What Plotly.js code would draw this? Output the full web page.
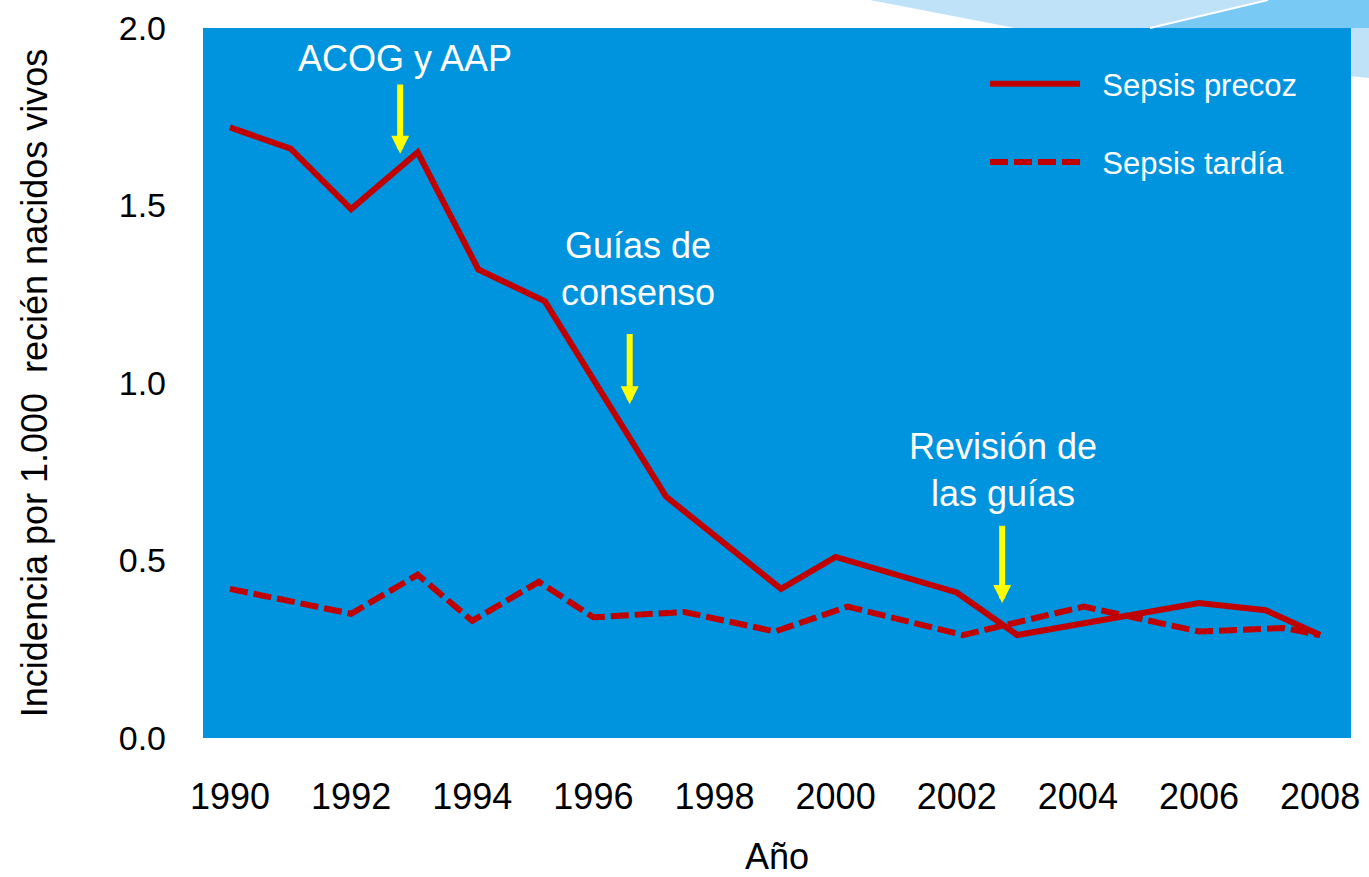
<!DOCTYPE html>
<html>
<head>
<meta charset="utf-8">
<script src="https://cdn.plot.ly/plotly-3.0.1.min.js"></script>
<style>html,body{margin:0;padding:0;background:#fff;}#chart{width:1369px;height:877px;}</style>
</head>
<body>
<div id="chart"></div>
<script>
// ---- data ----
const yearsPrecoz = [1990, 1991, 1992, 1993.1, 1994.1, 1995.2, 1997.2, 1999.1, 2000, 2002, 2003, 2006, 2007.1, 2008];
const sepsisPrecoz = [1.72, 1.66, 1.49, 1.65, 1.32, 1.23, 0.68, 0.42, 0.51, 0.41, 0.29, 0.38, 0.36, 0.29];
const yearsTardia = [1990, 1992, 1993.1, 1994, 1995.1, 1996, 1997.5, 1999, 2000.2, 2002.1, 2004.1, 2006, 2007.4, 2008];
const sepsisTardia = [0.42, 0.35, 0.46, 0.33, 0.44, 0.34, 0.355, 0.30, 0.37, 0.29, 0.37, 0.30, 0.31, 0.29];
const tickYears = [1990, 1992, 1994, 1996, 1998, 2000, 2002, 2004, 2006, 2008];
const yTicks = [0, 0.5, 1, 1.5, 2];
const yTickText = ['0.0', '0.5', '1.0', '1.5', '2.0'];
const seriesNames = ['Sepsis precoz', 'Sepsis tardía'];
const eventLabels = ['ACOG y AAP', 'Guías de<br>consenso', 'Revisión de<br>las guías'];
const eventYears = [1992.81, 1996.6, 2002.75];

const FONT = 'Liberation Sans, Arial, sans-serif';
const RED = '#C00000';
const W = 1369, H = 877, L = 203, R = 1351, T = 28, B = 738;
const px = v => (v - L) / (R - L);
const py = v => (B - v) / (B - T);
const pad = '\u00a0\u00a0';

const traces = [
  {x: yearsPrecoz, y: sepsisPrecoz, name: pad + seriesNames[0], mode: 'lines', legendgroup: 'a',
   line: {color: RED, width: 6}},
  {x: yearsTardia, y: sepsisTardia, name: pad + seriesNames[1], mode: 'lines', legendgroup: 'b',
   line: {color: RED, width: 6, dash: '18px,6px'}}
];

const arrowTip = [1.646, 0.94, 0.38];
const arrowTail = [1.845, 1.142, 0.602];
const textY = [1.913, 1.322, 0.754];
const textX = [1992.89, 1996.74, 2002.76];

const annotations = [];
for (let i = 0; i < 3; i++) {
  annotations.push({x: eventYears[i], y: arrowTip[i], ax: eventYears[i], ay: arrowTail[i],
    axref: 'x', ayref: 'y', xref: 'x', yref: 'y', text: '', showarrow: true,
    arrowhead: 2, arrowsize: 0.6, arrowwidth: 6, arrowcolor: '#FFFF00'});
  annotations.push({x: textX[i], y: textY[i], xref: 'x', yref: 'y', text: eventLabels[i],
    showarrow: false, font: {family: FONT, size: 36, color: '#FFFFFF'}, align: 'center'});
}

const shapes = [
  {type: 'path', xref: 'paper', yref: 'paper', layer: 'below', line: {width: 0}, fillcolor: '#BFE2F8',
   path: `M${px(870)},${py(0)} L${px(1369)},${py(0)} L${px(1369)},${py(78)} L${px(1351)},${py(76)} L${px(1351)},${py(28)} L${px(1015)},${py(28)} Z`},
  {type: 'path', xref: 'paper', yref: 'paper', layer: 'below', line: {width: 0}, fillcolor: '#78C9F4',
   path: `M${px(1152)},${py(28)} L${px(1268)},${py(0)} L${px(1369)},${py(0)} L${px(1369)},${py(28)} L${px(1351)},${py(28)} Z`},
  {type: 'line', xref: 'paper', yref: 'paper', layer: 'below', x0: px(1150), y0: py(28), x1: px(1268), y1: py(0),
   line: {color: '#FFFFFF', width: 2}}
];

const layout = {
  width: W, height: H,
  margin: {l: L, r: W - R, t: T, b: H - B, pad: 0},
  paper_bgcolor: '#FFFFFF',
  plot_bgcolor: '#0093DE',
  font: {family: FONT, color: '#000000'},
  showlegend: true,
  legend: {x: px(985), y: py(57), xanchor: 'left', yanchor: 'top', bgcolor: 'rgba(0,0,0,0)',
    font: {family: FONT, size: 31, color: '#FFFFFF'}, itemwidth: 90, tracegroupgap: 35,
    traceorder: 'grouped'},
  xaxis: {range: [1989.554, 2008.51], tickvals: tickYears, ticktext: tickYears.map(String),
    showgrid: false, zeroline: false, showline: false, ticks: '', ticklabelstandoff: 34,
    tickfont: {family: FONT, size: 36, color: '#000'},
    title: {text: 'Año', font: {family: FONT, size: 36, color: '#000'}, standoff: 37}},
  yaxis: {range: [0, 2], tickvals: yTicks, ticktext: yTickText,
    showgrid: false, zeroline: false, showline: false, ticks: '', ticklabelstandoff: 36,
    tickfont: {family: FONT, size: 34, color: '#000'},
    title: {text: 'Incidencia por 1.000 \u00a0recién nacidos vivos', font: {family: FONT, size: 36, color: '#000'}, standoff: 60}},
  annotations: annotations,
  shapes: shapes
};

Plotly.newPlot('chart', traces, layout, {displayModeBar: false, staticPlot: true});
</script>
</body>
</html>
